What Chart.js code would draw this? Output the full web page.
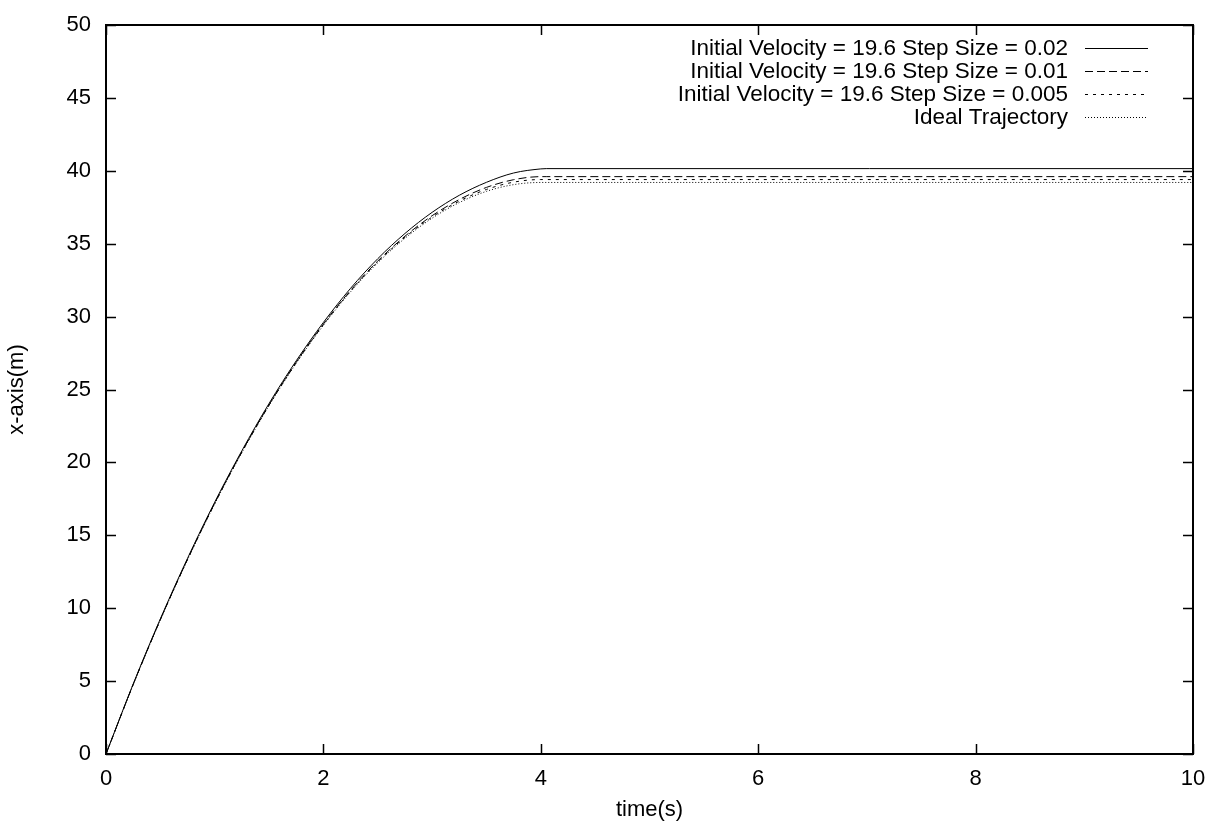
<!DOCTYPE html>
<html>
<head>
<meta charset="utf-8">
<script src="https://cdn.jsdelivr.net/npm/chart.js@4"></script>
<style>
  html, body { margin: 0; padding: 0; background: #fff; }
  #wrap { width: 1208px; height: 823px; }
</style>
</head>
<body>
<div id="wrap"><canvas id="chartTrajectoire" width="1208" height="823"></canvas></div>
<script>
// valeurs
const temps = [0, 0.25, 0.5, 0.75, 1, 1.25, 1.5, 1.75, 2, 2.25, 2.5, 2.75, 3, 3.25, 3.5, 3.75, 4, 4.05, 10];
const pas002 = [0, 4.80, 9.27, 13.42, 17.27, 20.80, 24.04, 26.97, 29.60, 31.94, 33.97, 35.70, 37.15, 38.32, 39.21, 39.85, 40.13, 40.15, 40.15];
const pas001 = [0, 4.77, 9.22, 13.36, 17.20, 20.73, 23.95, 26.87, 29.49, 31.80, 33.81, 35.51, 36.92, 38.03, 38.86, 39.39, 39.60, 39.60, 39.60];
const pas0005 = [0, 4.76, 9.21, 13.34, 17.18, 20.70, 23.92, 26.84, 29.44, 31.75, 33.75, 35.44, 36.83, 37.92, 38.72, 39.22, 39.40, 39.40, 39.40];
const ideal = [0, 4.75, 9.19, 13.32, 17.15, 20.67, 23.89, 26.80, 29.40, 31.70, 33.69, 35.37, 36.75, 37.82, 38.59, 39.05, 39.20, 39.20, 39.20];

const labels = [
    'Initial Velocity = 19.6 Step Size = 0.02',
    'Initial Velocity = 19.6 Step Size = 0.01',
    'Initial Velocity = 19.6 Step Size = 0.005',
    'Ideal Trajectory'
];
const ticksX = [0, 2, 4, 6, 8, 10];
const ticksY = [0, 5, 10, 15, 20, 25, 30, 35, 40, 45, 50];

const famille = '"Liberation Sans", Arial, sans-serif';
const police = '22.5px ' + famille;

function points(valeurs) {
    return temps.map((t, i) => ({ x: t, y: valeurs[i] }));
}

function serie(label, valeurs, dash) {
    return {
        label: label,
        data: points(valeurs),
        borderColor: '#000',
        borderWidth: 1,
        borderDash: dash,
        pointRadius: 0,
        fill: false,
        cubicInterpolationMode: 'monotone'
    };
}

// cadre + graduations vers l'intérieur, façon gnuplot
const cadrePlugin = {
    id: 'cadre',
    afterDraw(chart) {
        const ctx = chart.ctx;
        const a = chart.chartArea;
        const sx = chart.scales.x;
        const sy = chart.scales.y;
        ctx.save();
        ctx.strokeStyle = '#000';
        ctx.lineWidth = 2;
        ctx.setLineDash([]);
        ctx.strokeRect(a.left, a.top, a.right - a.left, a.bottom - a.top);
        ctx.lineWidth = 1.5;
        ctx.beginPath();
        ticksX.forEach(v => {
            const px = Math.round(sx.getPixelForValue(v)) + 0.5;
            ctx.moveTo(px, a.bottom); ctx.lineTo(px, a.bottom - 10);
            ctx.moveTo(px, a.top); ctx.lineTo(px, a.top + 10);
        });
        ticksY.forEach(v => {
            const py = Math.round(sy.getPixelForValue(v)) + 0.5;
            ctx.moveTo(a.left, py); ctx.lineTo(a.left + 10, py);
            ctx.moveTo(a.right, py); ctx.lineTo(a.right - 10, py);
        });
        ctx.stroke();

        // légende : texte aligné à droite puis échantillon de trait
        ctx.font = police;
        ctx.fillStyle = '#000';
        ctx.textAlign = 'right';
        ctx.textBaseline = 'middle';
        ctx.lineWidth = 1;
        chart.data.datasets.forEach((ds, i) => {
            const y = 48 + i * 23;
            ctx.fillText(ds.label, 1068, y + 1);
            ctx.setLineDash(ds.borderDash || []);
            ctx.beginPath();
            ctx.moveTo(1085, Math.round(y) + 0.5);
            ctx.lineTo(1148, Math.round(y) + 0.5);
            ctx.stroke();
        });
        ctx.restore();
    }
};

function afficherTrajectoire() {
    const canvas = document.getElementById('chartTrajectoire');
    if (!canvas) {
        console.error("Canvas #chartTrajectoire introuvable !");
        return;
    }
    const ctx = canvas.getContext('2d');

    new Chart(ctx, {
        type: 'line',
        data: {
            datasets: [
                serie(labels[0], pas002, []),
                serie(labels[1], pas001, [8, 4]),
                serie(labels[2], pas0005, [3, 5]),
                serie(labels[3], ideal, [1, 2])
            ]
        },
        options: {
            responsive: false,
            animation: false,
            layout: { padding: { top: 25, right: 15, left: 0, bottom: 0 } },
            plugins: {
                legend: { display: false },
                tooltip: { enabled: false }
            },
            scales: {
                x: {
                    type: 'linear',
                    min: 0,
                    max: 10,
                    afterFit: s => { s.height = 69; s.paddingLeft = 0; s.paddingRight = 0; },
                    afterBuildTicks: s => { s.ticks = ticksX.map(v => ({ value: v })); },
                    grid: { display: false, drawTicks: false },
                    border: { display: false },
                    ticks: { color: '#000', font: { family: famille, size: 22 }, padding: 12, maxRotation: 0 },
                    title: { display: true, text: 'time(s)', color: '#000', font: { family: famille, size: 22 }, padding: { top: 4, bottom: 0 } }
                },
                y: {
                    type: 'linear',
                    min: 0,
                    max: 50,
                    afterFit: s => { s.width = 106; s.paddingTop = 0; s.paddingBottom = 0; },
                    afterBuildTicks: s => { s.ticks = ticksY.map(v => ({ value: v })); },
                    grid: { display: false, drawTicks: false },
                    border: { display: false },
                    ticks: { color: '#000', font: { family: famille, size: 22 }, padding: 15 },
                    title: { display: true, text: 'x-axis(m)', color: '#000', font: { family: famille, size: 22 }, padding: { bottom: 4 } }
                }
            }
        },
        plugins: [cadrePlugin]
    });
}

afficherTrajectoire();
</script>
</body>
</html>
